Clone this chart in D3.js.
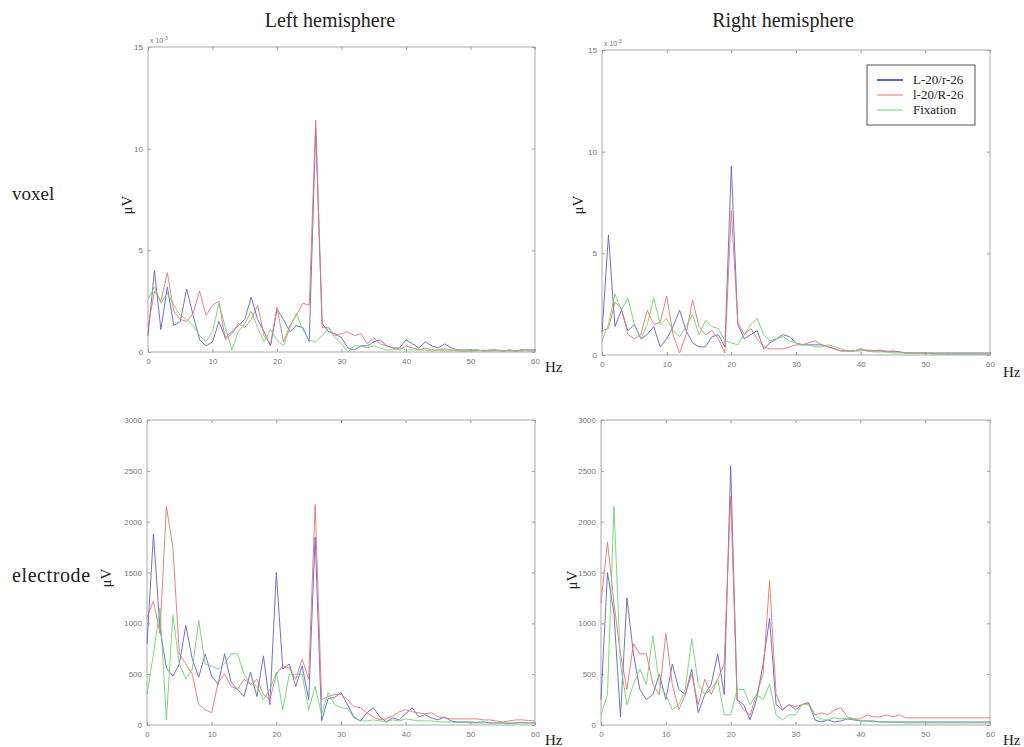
<!DOCTYPE html>
<html>
<head>
<meta charset="utf-8">
<script src="https://cdn.jsdelivr.net/npm/d3@7"></script>
<style>
  body { margin: 0; background: #fff; }
  .tick text { font-family: "Liberation Sans", Arial, sans-serif; font-size: 8px; fill: #777; }
  .tick line { stroke: #999; }
  .lbl { font-family: "Liberation Serif", "DejaVu Serif", serif; fill: #222; }
</style>
</head>
<body>
<svg id="chart" width="1024" height="747"></svg>
<script>
// frequency grid (Hz) and tick values
const freqs = [0,1,2,3,4,5,6,7,8,9,10,11,12,13,14,15,16,17,18,19,20,21,22,23,24,25,26,27,28,29,30,
  31,32,33,34,35,36,37,38,39,40,41,42,43,44,45,46,47,48,49,50,51,52,53,54,55,56,57,58,59,60]
const xTicks = [0, 10, 20, 30, 40, 50, 60]
const voxelTicks = [0, 5, 10, 15]
const electrodeTicks = [0, 500, 1000, 1500, 2000, 2500, 3000]
const seriesNames = ["L-20/r-26", "l-20/R-26", "Fixation"]

// voxel, left hemisphere
const voxLeftL20 = [0.8,4.0,1.1,3.2,1.3,1.5,3.1,1.8,0.6,0.3,
  0.5,1.5,0.7,1.0,1.3,1.6,2.7,1.6,1.0,0.3,
  2.1,1.6,1.0,1.3,1.2,0.5,11.0,1.4,1.0,0.9,
  0.7,0.2,0.1,0.3,0.3,0.5,0.6,0.3,0.2,0.2,
  0.6,0.4,0.2,0.5,0.3,0.2,0.4,0.2,0.1,0.1,
  0.1,0.1,0.05,0.1,0.1,0.05,0.1,0.05,0.1,0.1,0.1]
const voxLeftR26 = [1.2,3.0,2.5,3.9,2.0,1.6,1.5,1.9,3.0,1.8,
  2.3,2.5,0.6,0.9,1.4,1.2,1.6,2.3,0.8,0.4,
  2.2,0.5,1.3,1.8,2.4,2.3,11.4,1.2,1.2,0.8,
  0.9,1.0,0.8,0.9,0.4,0.7,0.4,0.3,0.2,0.1,
  0.3,0.2,0.1,0.2,0.1,0.1,0.15,0.1,0.05,0.05,
  0.05,0.1,0.05,0.05,0.1,0.05,0.05,0.05,0.1,0.05,0.05]
const voxLeftFix = [2.6,3.2,2.4,2.9,2.3,1.8,1.6,1.3,0.8,0.5,
  1.0,2.4,1.2,0.1,1.0,1.4,2.0,1.2,0.5,1.1,
  0.6,0.3,1.2,1.9,1.1,0.6,0.5,0.8,1.2,0.7,
  0.4,0.0,0.3,0.3,0.2,0.3,0.2,0.1,0.1,0.2,
  0.1,0.1,0.1,0.1,0.05,0.1,0.05,0.05,0.1,0.05,
  0.05,0.05,0.1,0.05,0.05,0.05,0.1,0.05,0.05,0.1,0.05]

// voxel, right hemisphere
const voxRightL20 = [1.1,5.9,1.4,2.2,1.2,1.5,0.8,1.0,1.4,0.4,
  0.8,1.4,2.2,1.2,0.6,0.4,0.4,0.9,1.0,0.4,
  9.3,1.5,0.8,1.0,1.2,0.3,0.6,0.8,1.0,0.9,
  0.6,0.5,0.5,0.5,0.5,0.4,0.3,0.2,0.2,0.2,
  0.3,0.2,0.2,0.2,0.15,0.2,0.15,0.1,0.1,0.1,
  0.1,0.1,0.1,0.1,0.1,0.1,0.1,0.1,0.1,0.1,0.1]
const voxRightR26 = [1.2,1.3,2.6,2.3,1.0,0.8,1.0,2.2,1.5,1.6,
  2.9,1.0,0.1,1.0,2.7,1.4,1.0,1.2,0.8,0.1,
  7.1,1.6,1.0,1.3,0.8,0.4,0.3,0.3,0.3,0.4,
  0.5,0.5,0.6,0.7,0.5,0.4,0.3,0.2,0.2,0.2,
  0.2,0.25,0.2,0.25,0.2,0.15,0.15,0.1,0.1,0.1,
  0.1,0.05,0.05,0.05,0.05,0.05,0.05,0.05,0.05,0.05,0.05]
const voxRightFix = [0.7,1.5,3.0,2.2,2.8,1.5,0.8,1.5,2.8,1.5,
  1.8,1.2,0.9,1.4,2.0,1.0,1.7,1.4,1.3,0.7,
  0.6,0.5,1.0,1.5,1.8,1.0,0.7,0.8,0.9,0.7,
  0.6,0.5,0.5,0.4,0.4,0.5,0.4,0.3,0.2,0.2,
  0.3,0.2,0.15,0.15,0.15,0.1,0.1,0.1,0.1,0.1,
  0.05,0.1,0.05,0.05,0.05,0.05,0.05,0.05,0.05,0.05,0.05]

// electrode, left hemisphere
const elLeftL20 = [800,1880,950,560,480,600,980,650,470,700,
  480,400,700,420,350,280,520,280,680,200,
  1500,550,600,380,580,250,1850,40,260,270,
  320,200,80,40,120,170,80,30,70,50,
  110,170,80,100,70,50,80,40,30,30,
  30,25,30,20,20,20,15,20,25,20,20]
const elLeftR26 = [1060,1220,900,2150,1750,700,600,500,200,150,
  120,420,500,380,350,450,400,450,300,250,
  500,580,560,450,650,450,2170,250,280,300,
  300,250,180,170,120,80,50,60,90,130,
  150,130,120,110,120,80,70,60,60,60,
  60,60,50,50,40,30,40,50,50,45,40]
const elLeftFix = [300,700,1150,50,1080,600,450,550,1030,600,
  580,550,600,700,700,500,400,380,250,350,
  520,150,500,500,500,150,380,100,320,200,
  170,160,70,40,40,50,40,30,50,40,
  60,50,40,40,40,30,30,30,25,25,
  20,20,20,20,20,20,20,20,20,20,20]

// electrode, right hemisphere
const elRightL20 = [250,1500,1100,80,1250,700,350,250,300,500,
  250,600,350,300,550,120,300,400,700,300,
  2550,250,200,50,250,600,1050,200,150,200,
  150,200,220,50,30,50,30,40,60,50,
  40,40,40,30,30,30,30,30,30,30,
  30,30,30,30,30,30,30,30,30,30,30]
const elRightR26 = [1200,1800,1200,700,350,800,700,700,400,300,
  900,400,150,300,500,200,450,300,450,600,
  2250,250,150,100,300,500,1420,300,150,200,
  180,200,220,100,120,100,150,170,80,60,
  60,100,80,80,100,80,100,70,70,70,
  70,70,70,70,70,70,70,70,70,70,70]
const elRightFix = [100,300,2150,600,200,400,550,400,880,400,
  300,150,200,350,850,400,300,350,450,100,
  100,350,350,200,300,250,400,100,50,100,
  100,200,200,100,50,50,70,60,60,60,
  40,40,30,30,30,25,25,20,20,20,
  20,20,20,20,20,20,20,20,20,20,20]

const colors = ["#6464c0", "#e47474", "#72d072"]

const svg = d3.select("#chart")

const panels = [
  {left: 148, right: 535, top: 47, bottom: 352, yMax: 15, ticks: voxelTicks, exp: true,
    data: [voxLeftL20, voxLeftR26, voxLeftFix], mu: [127, 205], hz: [545, 372]},
  {left: 602, right: 990, top: 50, bottom: 355, yMax: 15, ticks: voxelTicks, exp: true, legend: true,
    data: [voxRightL20, voxRightR26, voxRightFix], mu: [578, 205], hz: [1003, 377]},
  {left: 147, right: 535, top: 420, bottom: 725, yMax: 3000, ticks: electrodeTicks,
    data: [elLeftL20, elLeftR26, elLeftFix], mu: [106, 578], hz: [545, 745]},
  {left: 601, right: 990, top: 420, bottom: 725, yMax: 3000, ticks: electrodeTicks,
    data: [elRightL20, elRightR26, elRightFix], mu: [572, 580], hz: [1003, 745]}
]

panels.forEach(p => {
  const x = d3.scaleLinear().domain([0, 60]).range([p.left, p.right])
  const y = d3.scaleLinear().domain([0, p.yMax]).range([p.bottom, p.top])
  const g = svg.append("g")

  // axes with inward ticks, MATLAB style box
  g.append("g").attr("transform", `translate(0,${p.bottom})`)
    .call(d3.axisBottom(x).tickValues(xTicks).tickSizeInner(-3).tickSizeOuter(0).tickPadding(6))
  g.append("g").attr("transform", `translate(0,${p.top})`)
    .call(d3.axisTop(x).tickValues(xTicks).tickSizeInner(-3).tickSizeOuter(0).tickFormat(""))
  g.append("g").attr("transform", `translate(${p.left},0)`)
    .call(d3.axisLeft(y).tickValues(p.ticks).tickSizeInner(-3).tickSizeOuter(0).tickPadding(5)
      .tickFormat(d3.format("d")))
  g.append("g").attr("transform", `translate(${p.right},0)`)
    .call(d3.axisRight(y).tickValues(p.ticks).tickSizeInner(-3).tickSizeOuter(0).tickFormat(""))
  g.selectAll(".domain").remove()
  g.append("rect")
    .attr("x", p.left).attr("y", p.top)
    .attr("width", p.right - p.left).attr("height", p.bottom - p.top)
    .attr("fill", "none").attr("stroke", "#aaa").attr("stroke-width", 1)

  const line = d3.line()
    .x((d, i) => x(freqs[i]))
    .y(d => y(d))

  p.data.forEach((s, i) => {
    g.append("path")
      .attr("d", line(s))
      .attr("fill", "none")
      .attr("stroke", colors[i])
      .attr("stroke-width", 1)
      .attr("stroke-opacity", 0.9)
  })

  if (p.exp) {
    const t = g.append("text")
      .attr("x", p.left + 2).attr("y", p.top - 4)
      .style("font-family", "Liberation Sans, sans-serif").style("font-size", "7px").style("fill", "#777")
      .text("x 10")
    t.append("tspan").attr("dy", -3).style("font-size", "5px").text("-3")
  }

  g.append("text").attr("class", "lbl")
    .attr("transform", `translate(${p.mu[0]},${p.mu[1]}) rotate(-90)`)
    .attr("text-anchor", "middle").attr("dy", "0.35em")
    .style("font-size", "15px")
    .text("μV")

  g.append("text").attr("class", "lbl")
    .attr("x", p.hz[0]).attr("y", p.hz[1])
    .style("font-size", "15px")
    .text("Hz")

  if (p.legend) {
    const lg = g.append("g").attr("transform", "translate(867,65)")
    lg.append("rect").attr("width", 108).attr("height", 60)
      .attr("fill", "#fff").attr("stroke", "#555").attr("stroke-width", 1)
    seriesNames.forEach((name, i) => {
      const yy = 15 + i * 15
      lg.append("line").attr("x1", 10).attr("x2", 36).attr("y1", yy).attr("y2", yy)
        .attr("stroke", colors[i]).attr("stroke-width", i === 0 ? 2 : 1)
      lg.append("text").attr("class", "lbl")
        .attr("x", 46).attr("y", yy + 4)
        .style("font-size", "13px")
        .text(name)
    })
  }
})

// column and row titles
svg.append("text").attr("class", "lbl").attr("x", 330).attr("y", 27)
  .attr("text-anchor", "middle").style("font-size", "20px").text("Left hemisphere")
svg.append("text").attr("class", "lbl").attr("x", 783).attr("y", 27)
  .attr("text-anchor", "middle").style("font-size", "20px").text("Right hemisphere")
svg.append("text").attr("class", "lbl").attr("x", 12).attr("y", 200)
  .style("font-size", "19px").text("voxel")
svg.append("text").attr("class", "lbl").attr("x", 12).attr("y", 582)
  .style("font-size", "20px").style("letter-spacing", "0.6px").text("electrode")
</script>
</body>
</html>
